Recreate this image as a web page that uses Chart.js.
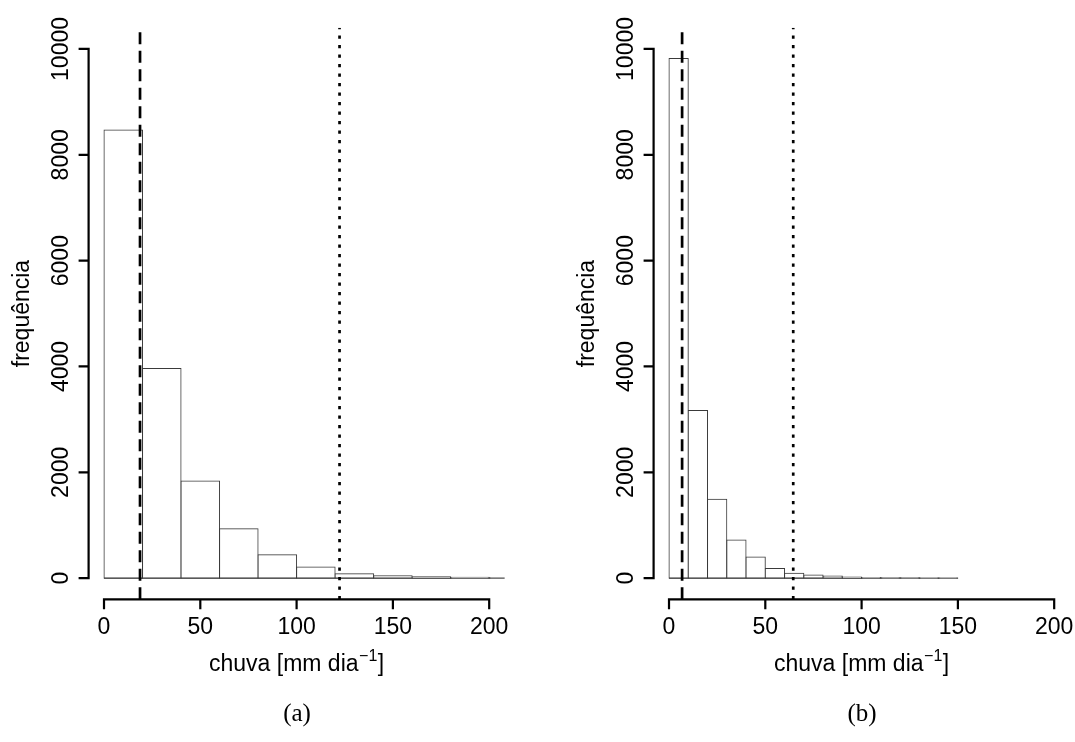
<!DOCTYPE html>
<html><head><meta charset="utf-8">
<script src="https://cdn.jsdelivr.net/npm/chart.js@4/dist/chart.umd.min.js"></script>
<style>
html,body{margin:0;padding:0;background:#fff;}
#wrap{position:relative;width:1075px;height:742px;overflow:hidden;background:#fff;}
.panel{position:absolute;top:0;height:742px;}
.cap{position:absolute;font-family:"Liberation Serif","DejaVu Serif",serif;font-size:25px;color:#000;transform:translate(-50%,-50%);white-space:nowrap;}
</style></head><body>
<div id="wrap">
<div class="panel" style="left:0;width:537px"><canvas id="ca" width="537" height="742"></canvas></div>
<div class="panel" style="left:537px;width:538px"><canvas id="cb" width="538" height="742"></canvas></div>
<div class="cap" style="left:297px;top:713px">(a)</div>
<div class="cap" style="left:862px;top:713px">(b)</div>
</div>
<script>
// ---- data ----
const binWidthA = 20;
const binCentersA = [10, 30, 50, 70, 90, 110, 130, 150, 170, 190, 210];
const countsA = [8470, 3960, 1837, 932, 440, 210, 85, 45, 25, 15, 6];
const dashedA = 18.7;
const dottedA = 122.3;

const binWidthB = 10;
const binCentersB = [5, 15, 25, 35, 45, 55, 65, 75, 85, 95, 105, 115, 125, 135, 145];
const countsB = [9820, 3170, 1490, 722, 400, 184, 92, 60, 38, 20, 14, 9, 6, 4, 3];
const dashedB = 6.8;
const dottedB = 64.5;

const xTicks = [0, 50, 100, 150, 200];
const yTicks = [0, 2000, 4000, 6000, 8000, 10000];
const xLimits = [-8, 208];
const yLimits = [-400, 10400];
const yTitle = 'frequência';
const xTitleMain = 'chuva [mm dia';
const xTitleSup = '\u22121';
const xTitleEnd = ']';

const FONT = '"Liberation Sans", Arial, Helvetica, sans-serif';

const rAxes = {
  id: 'rAxes',
  afterDraw(chart) {
    const ctx = chart.ctx;
    const xs = chart.scales.x, ys = chart.scales.y, a = chart.chartArea;
    ctx.save();
    ctx.strokeStyle = '#000';
    ctx.fillStyle = '#000';
    ctx.lineWidth = 2.2;
    ctx.lineCap = 'butt';
    // x axis
    const x0 = xs.getPixelForValue(xTicks[0]);
    const x1 = xs.getPixelForValue(xTicks[xTicks.length - 1]);
    ctx.beginPath();
    ctx.moveTo(x0 - 1.1, a.bottom); ctx.lineTo(x1 + 1.1, a.bottom);
    xTicks.forEach(v => { const p = xs.getPixelForValue(v); ctx.moveTo(p, a.bottom); ctx.lineTo(p, a.bottom + 10); });
    ctx.stroke();
    ctx.font = '23px ' + FONT;
    ctx.textAlign = 'center';
    ctx.textBaseline = 'alphabetic';
    xTicks.forEach(v => ctx.fillText(String(v), xs.getPixelForValue(v), a.bottom + 35));
    // y axis
    const y0 = ys.getPixelForValue(yTicks[0]);
    const y1 = ys.getPixelForValue(yTicks[yTicks.length - 1]);
    ctx.beginPath();
    ctx.moveTo(a.left, y0 + 1.1); ctx.lineTo(a.left, y1 - 1.1);
    yTicks.forEach(v => { const p = ys.getPixelForValue(v); ctx.moveTo(a.left, p); ctx.lineTo(a.left - 10, p); });
    ctx.stroke();
    yTicks.forEach(v => {
      const p = ys.getPixelForValue(v);
      ctx.save(); ctx.translate(a.left - 21, p); ctx.rotate(-Math.PI / 2);
      ctx.fillText(String(v), 0, 0); ctx.restore();
    });
    // y title
    ctx.save(); ctx.translate(a.left - 60, (a.top + a.bottom) / 2); ctx.rotate(-Math.PI / 2);
    ctx.fillText(yTitle, 0, 0); ctx.restore();
    // x title with superscript
    const big = '23px ' + FONT, small = '16px ' + FONT;
    ctx.font = big; const w1 = ctx.measureText(xTitleMain).width; const w3 = ctx.measureText(xTitleEnd).width;
    ctx.font = small; const w2 = ctx.measureText(xTitleSup).width;
    const tot = w1 + w2 + w3 + 1;
    let sx = (a.left + a.right) / 2 - tot / 2;
    const by = a.bottom + 72;
    ctx.textAlign = 'left';
    ctx.font = big; ctx.fillText(xTitleMain, sx, by); sx += w1 + 0.5;
    ctx.font = small; ctx.fillText(xTitleSup, sx, by - 10); sx += w2 + 0.5;
    ctx.font = big; ctx.fillText(xTitleEnd, sx, by);
    ctx.restore();
  }
};

function makeChart(id, centers, counts, bw, dashed, dotted, padL, padR) {
  const vline = (v, dash, w) => ({
    type: 'line',
    data: [{x: v, y: yLimits[0]}, {x: v, y: yLimits[1]}],
    borderColor: '#000', borderWidth: w, borderDash: dash, borderCapStyle: 'butt',
    pointRadius: 0, fill: false, clip: 0, order: 0
  });
  // bottom edges of the histogram rectangles
  const baseline = {
    type: 'line',
    data: [{x: centers[0] - bw / 2, y: 0}, {x: centers[centers.length - 1] + bw / 2, y: 0}],
    borderColor: '#3a3a3a', borderWidth: 1, pointRadius: 0, fill: false, clip: 0, order: 0.5
  };
  new Chart(document.getElementById(id), {
    type: 'bar',
    data: {
      datasets: [
        {
          type: 'bar',
          data: centers.map((c, i) => ({x: c, y: counts[i]})),
          backgroundColor: '#fff', borderColor: '#3a3a3a', borderWidth: 1,
          borderSkipped: false, inflateAmount: 0.5,
          barPercentage: 1, categoryPercentage: 1, clip: 0, order: 1
        },
        baseline,
        vline(dashed, [12, 6.5], 2.7),
        vline(dotted, [3.2, 6.3], 2.7)
      ]
    },
    options: {
      responsive: false, animation: false, devicePixelRatio: 1,
      layout: {padding: {left: padL, right: padR, top: 27.8, bottom: 742 - 599.3}},
      plugins: {legend: {display: false}, tooltip: {enabled: false}},
      scales: {
        x: {type: 'linear', min: xLimits[0], max: xLimits[1], display: false, offset: false,
            grid: {offset: false},
            afterBuildTicks: s => { s.ticks = xTicks.map(v => ({value: v})); }},
        y: {type: 'linear', min: yLimits[0], max: yLimits[1], display: false,
            afterBuildTicks: s => { s.ticks = yTicks.map(v => ({value: v})); }}
      }
    },
    plugins: [rAxes]
  });
}
makeChart('ca', binCentersA, countsA, binWidthA, dashedA, dottedA, 88.6, 537 - 504.6);
makeChart('cb', binCentersB, countsB, binWidthB, dashedB, dottedB, 653.6 - 537, 1075 - 1069.6);
</script>
</body></html>
